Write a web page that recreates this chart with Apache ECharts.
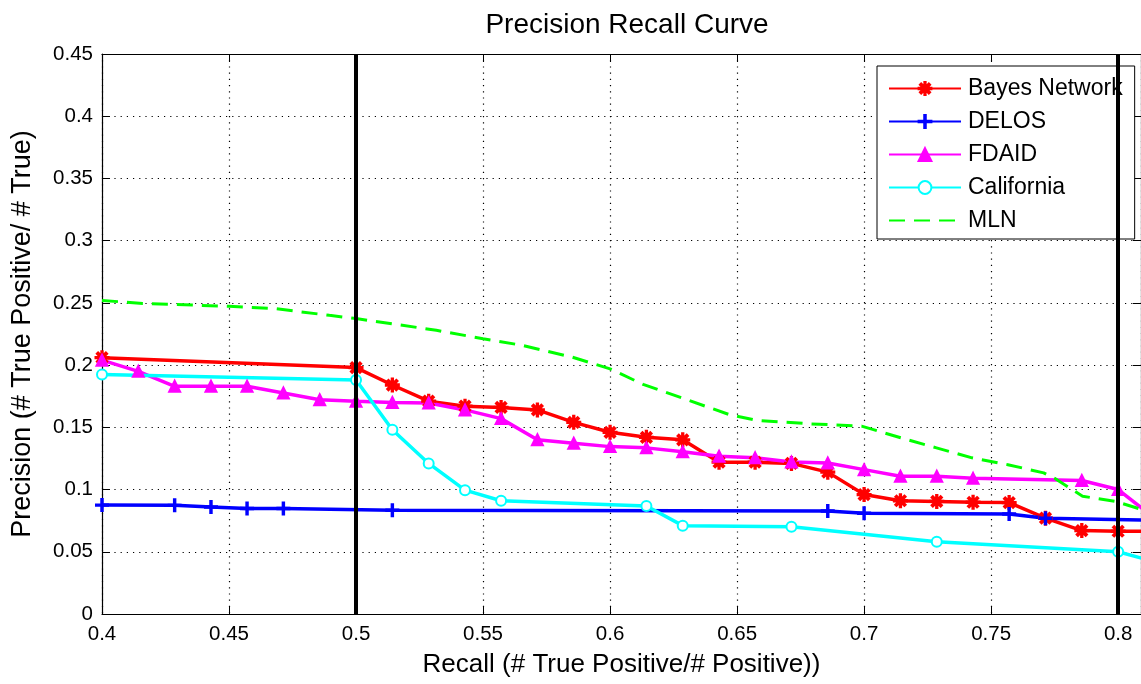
<!DOCTYPE html>
<html>
<head>
<meta charset="utf-8">
<script src="https://cdn.jsdelivr.net/npm/echarts@6/dist/echarts.min.js"></script>
<style>
html,body{margin:0;padding:0;background:#fff;}
#chart{width:1141px;height:684px;}
</style>
</head>
<body>
<div id="chart"></div>
<script>
// ---- data (recall, precision) ----
const titleText = 'Precision Recall Curve';
const xName = 'Recall (# True Positive/# Positive))';
const yName = 'Precision (# True Positive/ # True)';
const seriesNames = ['Bayes Network', 'DELOS', 'FDAID', 'California', 'MLN'];
const thresholds = [0.5, 0.8];
const xMin = 0.4, xMax = 0.809, xStep = 0.05;
const yMin = 0, yMax = 0.45, yStep = 0.05;

const bayesNetwork = [
  [0.4,0.206],[0.5,0.198],[0.5143,0.184],[0.5286,0.171],[0.5429,0.167],[0.5571,0.166],
  [0.5714,0.164],[0.5857,0.154],[0.6,0.146],[0.6143,0.142],[0.6286,0.140],[0.6429,0.122],
  [0.6571,0.122],[0.6714,0.121],[0.6857,0.114],[0.7,0.096],[0.7143,0.091],[0.7286,0.0905],
  [0.7429,0.0898],[0.7571,0.0895],[0.7714,0.077],[0.7857,0.067],[0.8,0.0665],[0.81,0.0665]
];
const delos = [
  [0.4,0.0875],[0.4286,0.0873],[0.4429,0.086],[0.4571,0.0848],[0.4714,0.0848],[0.5143,0.0833],
  [0.6857,0.0828],[0.7,0.081],[0.7571,0.0803],[0.7714,0.077],[0.81,0.0755]
];
const fdaid = [
  [0.4,0.204],[0.4143,0.195],[0.4286,0.183],[0.4429,0.183],[0.4571,0.183],[0.4714,0.1776],
  [0.4857,0.1722],[0.5,0.171],[0.5143,0.170],[0.5286,0.1695],[0.5429,0.164],[0.5571,0.157],
  [0.5714,0.140],[0.5857,0.1372],[0.6,0.1345],[0.6143,0.1335],[0.6286,0.1303],[0.6429,0.1268],
  [0.6571,0.1255],[0.6714,0.1222],[0.6857,0.1214],[0.7,0.116],[0.7143,0.1107],[0.7286,0.1107],
  [0.7429,0.109],[0.7857,0.1073],[0.8,0.100],[0.81,0.084]
];
const california = [
  [0.4,0.1925],[0.5,0.188],[0.5143,0.148],[0.5286,0.121],[0.5429,0.0995],[0.5571,0.091],
  [0.6143,0.0868],[0.6286,0.071],[0.6714,0.0702],[0.7286,0.058],[0.8,0.050],[0.81,0.0445]
];
const mln = [
  [0.4,0.252],[0.416,0.2495],[0.45,0.2473],[0.468,0.2454],[0.4895,0.240],[0.5,0.2374],
  [0.5316,0.228],[0.55,0.2212],[0.5654,0.2159],[0.5851,0.2064],[0.6,0.197],[0.613,0.1845],
  [0.63,0.1724],[0.6468,0.1603],[0.658,0.1555],[0.679,0.1528],[0.699,0.151],[0.7144,0.1416],
  [0.7285,0.1335],[0.7425,0.1255],[0.7566,0.120],[0.7707,0.1134],[0.775,0.109],[0.786,0.0946],
  [0.799,0.0905],[0.81,0.0835]
];

// ---- styling ----
const FONT = '"Liberation Sans", Arial, Helvetica, sans-serif';
const asteriskPath = 'path://M9,0L11,0L11,20L9,20Z M0,9L20,9L20,11L0,11Z M2,4L4,2L18,16L16,18Z M16,2L18,4L4,18L2,16Z';
const plusPath = 'path://M8.8,0L11.2,0L11.2,20L8.8,20Z M0,8.8L20,8.8L20,11.2L0,11.2Z';

function pts(arr) {
  return arr.map(p => p[0] >= xMax ? { value: p, symbol: 'none' } : p);
}

function lineSeries(name, data, color, symbol, size, extra) {
  return Object.assign({
    name: name,
    type: 'line',
    data: pts(data),
    symbol: symbol,
    symbolSize: size,
    showSymbol: symbol !== 'none',
    clip: true,
    itemStyle: { color: color, borderColor: color, borderWidth: 2 },
    lineStyle: { color: color, width: 3.5 },
    emphasis: { disabled: true },
    animation: false
  }, extra || {});
}

const gridLine = { show: true, lineStyle: { color: '#000', width: 1.2, type: [1.2, 5] } };

const option = {
  backgroundColor: '#fff',
  animation: false,
  title: {
    text: titleText,
    left: 622,
    textAlign: 'center',
    top: 6,
    textStyle: { fontFamily: FONT, fontSize: 28, fontWeight: 'normal', color: '#000' }
  },
  legend: {
    orient: 'vertical',
    left: 877,
    top: 66,
    padding: [11, 12, 7, 11],
    itemWidth: 72,
    itemHeight: 16,
    itemGap: 10,
    backgroundColor: '#fff',
    borderColor: '#000',
    borderWidth: 1,
    borderRadius: 0,
    textStyle: { fontFamily: FONT, fontSize: 23, color: '#000', padding: [0, 0, 0, 2] },
    data: seriesNames.map(n => n === 'MLN' ? { name: n, itemStyle: { opacity: 0 } } : n)
  },
  grid: { left: 102, right: -2, top: 54, bottom: 70, containLabel: false },
  xAxis: [{
    type: 'value', position: 'bottom',
    min: xMin, max: xMax, interval: xStep,
    name: xName, nameLocation: 'middle', nameGap: 38,
    nameTextStyle: { fontFamily: FONT, fontSize: 26, color: '#000' },
    axisLine: { show: true, onZero: false, lineStyle: { color: '#000', width: 1.2 } },
    axisTick: { show: true, inside: true, length: 8, lineStyle: { color: '#000' } },
    axisLabel: { fontFamily: FONT, fontSize: 20.5, color: '#000', margin: 10, showMaxLabel: false },
    splitLine: gridLine
  }, {
    type: 'value', position: 'top',
    min: xMin, max: xMax, interval: xStep,
    axisLine: { show: true, onZero: false, lineStyle: { color: '#000', width: 1.2 } },
    axisTick: { show: true, inside: true, length: 8, lineStyle: { color: '#000' } },
    axisLabel: { show: false },
    splitLine: { show: false }
  }],
  yAxis: [{
    type: 'value', position: 'left',
    min: yMin, max: yMax, interval: yStep,
    name: yName, nameLocation: 'middle', nameGap: 66,
    nameTextStyle: { fontFamily: FONT, fontSize: 27, color: '#000' },
    axisLine: { show: true, onZero: false, lineStyle: { color: '#000', width: 1.2 } },
    axisTick: { show: true, inside: true, length: 8, lineStyle: { color: '#000' } },
    axisLabel: { fontFamily: FONT, fontSize: 20.5, color: '#000', margin: 9 },
    splitLine: gridLine
  }, {
    type: 'value', position: 'right',
    min: yMin, max: yMax, interval: yStep,
    axisLine: { show: true, onZero: false, lineStyle: { color: '#000', width: 1.2 } },
    axisTick: { show: true, inside: true, length: 8, lineStyle: { color: '#000' } },
    axisLabel: { show: false },
    splitLine: { show: false }
  }],
  series: [
    lineSeries(seriesNames[0], bayesNetwork, '#ff0000', asteriskPath, 13, {
      markLine: {
        silent: true, symbol: 'none', z: 10,
        label: { show: false },
        lineStyle: { color: '#000', width: 4, type: 'solid' },
        data: thresholds.map(v => ({ xAxis: v }))
      }
    }),
    lineSeries(seriesNames[1], delos, '#0000ff', plusPath, 12),
    lineSeries(seriesNames[2], fdaid, '#ff00ff', 'triangle', 11),
    lineSeries(seriesNames[3], california, '#00ffff', 'emptyCircle', 10),
    lineSeries(seriesNames[4], mln, '#00ff00', 'none', 0, {
      lineStyle: { color: '#00ff00', width: 3, type: [16, 9] }
    })
  ]
};

const chart = echarts.init(document.getElementById('chart'), null, { renderer: 'canvas' });
chart.setOption(option);
</script>
</body>
</html>
